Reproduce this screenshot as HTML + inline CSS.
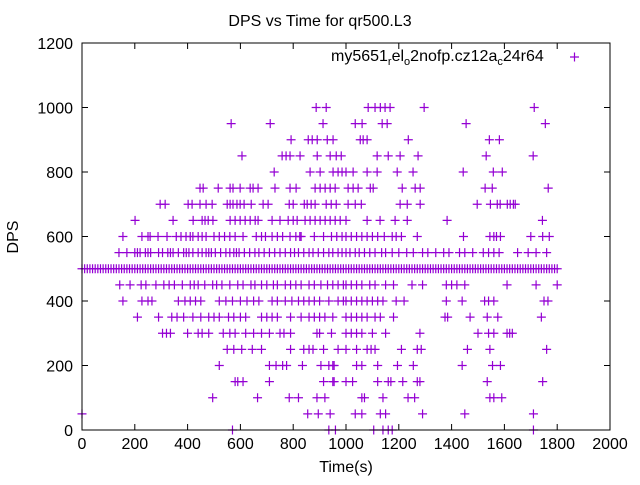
<!DOCTYPE html>
<html><head><meta charset="utf-8"><style>
body{margin:0;background:#fff}
svg text{font-family:"Liberation Sans",sans-serif;font-size:16px;fill:#000}
</style></head><body>
<svg id="chart" width="640" height="480">
<rect x="0" y="0" width="640" height="480" fill="#fff"/>
<text x="320" y="26" text-anchor="middle">DPS vs Time for qr500.L3</text>
<text x="18" y="237" text-anchor="middle" transform="rotate(-90 18 237)">DPS</text>
<text x="346" y="472" text-anchor="middle">Time(s)</text>
<g id="axes"></g>
<g id="marks"></g>
<g>
<text x="331" y="61">my5651<tspan font-size="11" dy="4">r</tspan><tspan dy="-4">el</tspan><tspan font-size="11" dy="4">o</tspan><tspan dy="-4">2nofp.cz12a</tspan><tspan font-size="11" dy="4">c</tspan><tspan dy="-4">24r64</tspan></text>
<path d="M570 57h9M574.5 52.5v9" stroke="#9400d3" stroke-width="1.2"/>
</g>
<rect x="82" y="43" width="528" height="387" fill="none" stroke="#000" stroke-width="1"/>
</svg>
<script>
const xTicks=[0,200,400,600,800,1000,1200,1400,1600,1800,2000];
const yTicks=[0,200,400,600,800,1000,1200];
const levels=[1000,950,900,850,800,750,700,650,600,550,500,450,400,350,300,250,200,150,100,50,0];
const t1000=[887,925,1084,1110,1130,1148,1167,1296,1713];
const t950=[565,713,913,1035,1061,1137,1156,1455,1755];
const t900=[792,857,872,891,929,951,1054,1065,1080,1236,1543,1581];
const t850=[606,758,773,788,826,891,940,963,982,1118,1160,1205,1273,1531,1709];
const t800=[728,864,902,951,970,985,1000,1027,1080,1118,1194,1254,1444,1558,1592];
const t750=[447,459,516,561,572,599,637,648,667,731,788,811,883,902,921,940,959,1008,1027,1046,1092,1103,1213,1262,1281,1527,1554,1766];
const t700=[296,315,402,417,447,470,493,550,561,572,587,599,614,641,686,705,785,800,842,853,868,883,925,944,963,1008,1035,1058,1205,1232,1281,1497,1547,1573,1584,1611,1622,1634,1641];
const t650=[201,345,421,455,466,478,496,561,580,599,618,637,656,667,720,750,781,800,815,845,864,883,902,921,940,959,978,1000,1080,1129,1186,1232,1383,1744];
const t600=[155,227,250,258,288,322,357,375,394,410,420,440,455,470,500,520,540,560,580,610,660,680,695,720,740,760,788,810,825,830,880,915,945,965,985,1000,1020,1040,1060,1080,1100,1120,1145,1175,1190,1210,1270,1445,1545,1560,1570,1585,1700,1745,1770];
const t550=[140,170,200,210,220,240,250,260,290,305,325,335,345,365,385,395,405,420,440,455,470,480,490,505,525,545,560,575,585,595,615,635,655,670,690,710,730,750,770,790,805,820,840,860,875,895,915,935,950,970,985,1000,1015,1035,1050,1070,1090,1110,1135,1150,1175,1200,1230,1255,1290,1310,1340,1370,1390,1430,1450,1480,1520,1540,1560,1580,1650,1690,1720,1760];
const t500=[0,10,20,30,40,50,60,70,80,90,100,110,120,130,140,150,160,170,180,190,200,210,220,230,240,250,260,270,280,290,300,310,320,330,340,350,360,370,380,390,400,410,420,430,440,450,460,470,480,490,500,510,520,530,540,550,560,570,580,590,600,610,620,630,640,650,660,670,680,690,700,710,720,730,740,750,760,770,780,790,800,810,820,830,840,850,860,870,880,890,900,910,920,930,940,950,960,970,980,990,1000,1010,1020,1030,1040,1050,1060,1070,1080,1090,1100,1110,1120,1130,1140,1150,1160,1170,1180,1190,1200,1210,1220,1230,1240,1250,1260,1270,1280,1290,1300,1310,1320,1330,1340,1350,1360,1370,1380,1390,1400,1410,1420,1430,1440,1450,1460,1470,1480,1490,1500,1510,1520,1530,1540,1550,1560,1570,1580,1590,1600,1610,1620,1630,1640,1650,1660,1670,1680,1690,1700,1710,1720,1730,1740,1750,1760,1770,1780,1790,1800];
const t450=[143,182,224,242,280,310,330,350,380,410,425,440,465,495,510,530,560,590,610,640,655,680,700,725,740,770,790,810,830,860,880,905,930,950,970,990,1000,1020,1040,1060,1090,1110,1150,1180,1250,1290,1380,1400,1420,1450,1610,1720,1800];
const t400=[155,227,250,265,365,390,410,430,450,520,545,570,600,625,650,670,720,740,770,795,820,840,860,880,900,935,970,990,1000,1020,1040,1060,1080,1100,1120,1140,1190,1220,1380,1440,1525,1540,1560,1750,1765];
const t350=[210,290,340,360,385,420,450,480,500,520,555,575,600,620,680,700,720,740,790,830,860,880,900,920,950,1000,1020,1040,1060,1080,1110,1130,1180,1375,1385,1470,1535,1575,1740];
const t300=[305,320,335,400,440,455,480,535,560,580,620,650,680,710,750,765,790,890,900,945,1000,1020,1040,1060,1100,1150,1280,1500,1540,1560,1610,1620,1630];
const t250=[550,575,605,645,680,790,840,860,875,915,970,1000,1040,1080,1095,1110,1210,1270,1285,1460,1545,1760];
const t200=[520,710,735,760,775,835,905,935,955,950,1040,1060,1120,1195,1255,1440,1555,1585];
const t150=[580,590,610,710,915,950,955,1000,1025,1120,1160,1170,1215,1270,1280,1535,1745];
const t100=[495,665,785,820,890,920,1060,1070,1140,1235,1260,1545,1560,1590];
const t50=[0,855,895,940,1035,1060,1130,1150,1290,1450,1710];
const t0=[570,935,960,1105,1140,1160,1175,1710];
const times=[t1000,t950,t900,t850,t800,t750,t700,t650,t600,t550,t500,t450,t400,t350,t300,t250,t200,t150,t100,t50,t0];

const X0=82,X1=610,Y0=430,Y1=43;
function sx(v){return X0+(v-0)/(2000-0)*(X1-X0);}
function sy(v){return Y0-(v-0)/(1200-0)*(Y0-Y1);}
const NS='http://www.w3.org/2000/svg';
const axes=document.getElementById('axes');
const marks=document.getElementById('marks');
xTicks.forEach(v=>{
  const x=sx(v);
  const p=document.createElementNS(NS,'path');
  p.setAttribute('d',`M${x} ${Y0}v-6M${x} ${Y1}v6`);
  p.setAttribute('stroke','#000');
  
  
  axes.appendChild(p);
  const t=document.createElementNS(NS,'text');
  t.setAttribute('x',x);t.setAttribute('y',Y0+19);t.setAttribute('text-anchor','middle');
  t.textContent=v;
  
  
  axes.appendChild(t);
});
yTicks.forEach(v=>{
  const y=sy(v);
  const p=document.createElementNS(NS,'path');
  p.setAttribute('d',`M${X0} ${y}h6M${X1} ${y}h-6`);
  p.setAttribute('stroke','#000');
  
  
  axes.appendChild(p);
  const t=document.createElementNS(NS,'text');
  t.setAttribute('x',X0-9);t.setAttribute('y',y+6);t.setAttribute('text-anchor','end');
  t.textContent=v;
  
  
  axes.appendChild(t);
});
levels.forEach((lv,i)=>{
  times[i].forEach(tv=>{
    const x=sx(tv),y=sy(lv);
    const p=document.createElementNS(NS,'path');
    p.setAttribute('d',`M${x-4.5} ${y}h9M${x} ${y-4.5}v9`);
    p.setAttribute('stroke','#9400d3');
    p.setAttribute('stroke-width','1.2');
    
    
    marks.appendChild(p);
  });
});
</script>
</body></html>
